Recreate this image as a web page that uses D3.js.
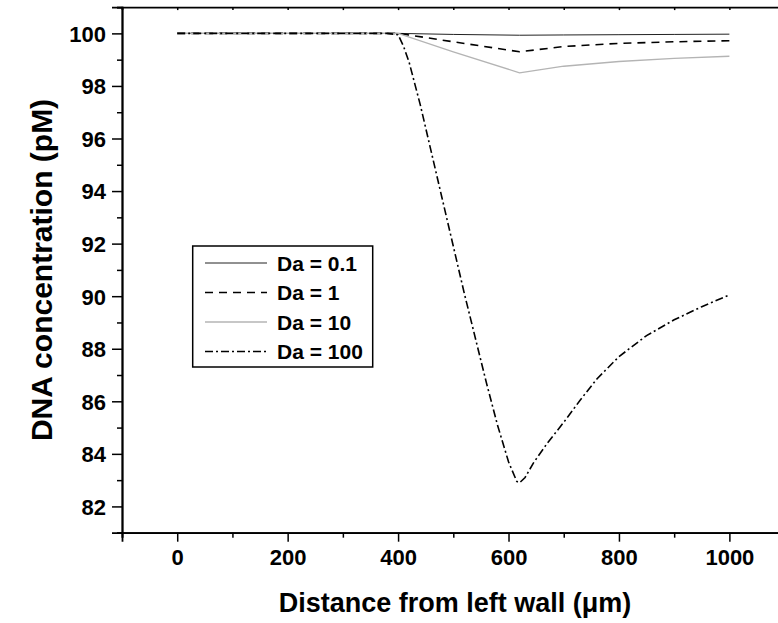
<!doctype html>
<html>
    <head>
        <script src="https://d3js.org/d3.v7.min.js"></script>
        <style>
            body,
            html {
                margin: 0;
                padding: 0;
                overflow: hidden;
                background: #fff;
            }
            text {
                font-family: Arial, "Liberation Sans", sans-serif;
                font-weight: bold;
            }
        </style>
    </head>
    <body>
        <script>
            // distance (um) and DNA concentration (pM) per Damkohler number
            const x01 = [0, 200, 400, 500, 620, 700, 800, 900, 1000];
            const y01 = [100, 100, 100, 99.96, 99.93, 99.94, 99.95, 99.96, 99.97];

            const x1 = [0, 200, 400, 500, 620, 700, 800, 900, 1000];
            const y1 = [100, 100, 100, 99.68, 99.3, 99.5, 99.62, 99.68, 99.72];

            const x10 = [0, 200, 400, 500, 620, 700, 800, 900, 1000];
            const y10 = [100, 100, 100, 99.3, 98.5, 98.75, 98.93, 99.05, 99.13];

            const x100 = [0, 200, 380, 400, 410, 420, 440, 460, 480, 500, 520, 540, 560, 580, 600, 615, 620, 630, 645, 670, 700, 730, 760, 800, 850, 900, 950, 1000];
            const y100 = [100, 100, 100, 99.95, 99.5, 98.9, 97.3, 95.5, 93.7, 91.9, 90.1, 88.4, 86.7, 85.1, 83.7, 82.95, 82.9, 83.1, 83.65, 84.4, 85.2, 86.05, 86.85, 87.7, 88.5, 89.1, 89.6, 90.05];

            const labels = ["Da = 0.1", "Da = 1", "Da = 10", "Da = 100"];
            const xTicks = [0, 200, 400, 600, 800, 1000];
            const yTicks = [82, 84, 86, 88, 90, 92, 94, 96, 98, 100];

            const width = 778;
            const height = 623;

            const svg = d3
                .create("svg")
                .attr("width", width)
                .attr("height", height)
                .attr("viewBox", [0, 0, width, height]);

            const x = d3.scaleLinear().domain([-100, 1100]).range([122, 784.6]);
            const y = d3.scaleLinear().domain([81, 101]).range([532.7, 7.1]);

            const series = [
                { xs: x01, ys: y01, color: "#222", w: 1, dash: null },
                { xs: x1, ys: y1, color: "#000", w: 1.6, dash: "8,6" },
                { xs: x10, ys: y10, color: "#b4b4b4", w: 1.3, dash: null },
                { xs: x100, ys: y100, color: "#000", w: 1.6, dash: "8,3,2,3" },
            ];

            const line = d3
                .line()
                .x((d) => x(d[0]))
                .y((d) => y(d[1]));

            svg.append("g")
                .attr("fill", "none")
                .selectAll("path")
                .data(series)
                .join("path")
                .attr("d", (s) => line(d3.zip(s.xs, s.ys)))
                .attr("stroke", (s) => s.color)
                .attr("stroke-width", (s) => s.w)
                .attr("stroke-dasharray", (s) => s.dash);

            // axes: major ticks with labels, minor ticks, short ticks on top
            svg.append("g")
                .attr("transform", `translate(0,${y(81)})`)
                .call(
                    d3.axisBottom(x)
                        .tickValues(xTicks)
                        .tickSize(9)
                        .tickPadding(8)
                        .tickFormat(d3.format("d"))
                );
            svg.append("g")
                .attr("transform", `translate(0,${y(81)})`)
                .call(
                    d3.axisBottom(x)
                        .tickValues(d3.range(-100, 1101, 200))
                        .tickSize(5)
                        .tickFormat("")
                );
            const yAxis = svg
                .append("g")
                .attr("transform", `translate(${x(-100)},0)`)
                .call(d3.axisLeft(y).tickValues(yTicks).tickSize(10).tickPadding(6));
            svg.append("g")
                .attr("transform", `translate(${x(-100)},0)`)
                .call(
                    d3.axisLeft(y)
                        .tickValues(d3.range(81, 102, 2))
                        .tickSize(5)
                        .tickFormat("")
                );
            svg.append("g")
                .attr("transform", `translate(0,${y(101)})`)
                .call(
                    d3.axisTop(x)
                        .tickValues(d3.range(0, 1101, 100))
                        .tickSize(-3)
                        .tickFormat("")
                );

            svg.selectAll(".domain").attr("stroke-width", 1.8);
            svg.selectAll(".tick line").attr("stroke-width", 1.5);
            svg.selectAll(".tick text")
                .attr("font-size", 22)
                .attr("font-family", "Arial, 'Liberation Sans', sans-serif")
                .attr("font-weight", "bold");
            yAxis.selectAll(".tick text").attr("dy", "0.36em");

            // axis titles
            svg.append("text")
                .attr("x", 455)
                .attr("y", 612)
                .attr("text-anchor", "middle")
                .attr("font-size", 27)
                .text("Distance from left wall (\u03bcm)");

            svg.append("text")
                .attr("transform", "translate(52,270) rotate(-90)")
                .attr("text-anchor", "middle")
                .attr("font-size", 30)
                .text("DNA concentration (pM)");

            // legend
            const legend = svg.append("g");
            legend
                .append("rect")
                .attr("x", 192.7)
                .attr("y", 246)
                .attr("width", 180)
                .attr("height", 121)
                .attr("fill", "#fff")
                .attr("stroke", "#000")
                .attr("stroke-width", 1.5);

            const rows = legend
                .selectAll("g.row")
                .data(series)
                .join("g")
                .attr("class", "row")
                .attr("transform", (d, i) => `translate(0,${263 + i * 29.5})`);

            rows.append("line")
                .attr("x1", 205)
                .attr("x2", 267)
                .attr("stroke", (s) => s.color)
                .attr("stroke-width", (s) => s.w)
                .attr("stroke-dasharray", (s) => s.dash);

            rows.append("text")
                .attr("x", 277)
                .attr("dy", "0.36em")
                .attr("font-size", 21)
                .text((d, i) => labels[i]);

            document.body.appendChild(svg.node());
        </script>
    </body>
</html>
